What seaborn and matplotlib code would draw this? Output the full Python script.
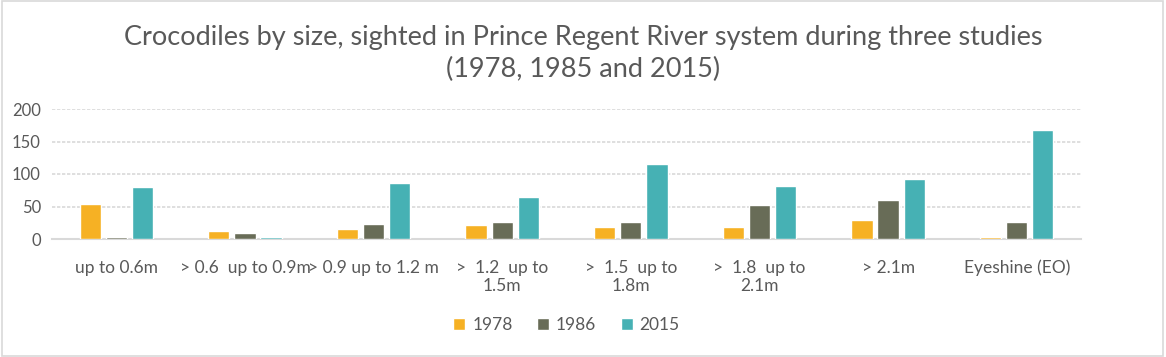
import numpy as np
import pandas as pd
import seaborn as sns
import matplotlib.pyplot as plt
from matplotlib.patches import Rectangle

# values
CATEGORIES = ['up to 0.6m', '> 0.6  up to 0.9m', '> 0.9 up to 1.2 m', '>  1.2  up to\n1.5m',
              '>  1.5  up to\n1.8m', '>  1.8  up to\n2.1m', '> 2.1m', 'Eyeshine (EO)']
YEARS = ['1978', '1986', '2015']
COUNTS_1978 = [54, 12, 15, 22, 18, 18, 29, 3]
COUNTS_1986 = [3, 9, 23, 26, 26, 52, 60, 26]
COUNTS_2015 = [80, 3, 86, 65, 116, 82, 93, 168]
COLORS = ['#F6B124', '#686C57', '#46B1B4']

TEXT = '#595959'

sns.set_theme(style='white')
plt.rcParams['font.family'] = ['Lato', 'DejaVu Sans']

rows = []
for year, vals in zip(YEARS, [COUNTS_1978, COUNTS_1986, COUNTS_2015]):
    for cat, v in zip(CATEGORIES, vals):
        rows.append({'size': cat, 'year': year, 'count': v})
df = pd.DataFrame(rows)

fig = plt.figure(figsize=(11.66, 3.57), dpi=100)
ax = fig.add_axes([52 / 1166, 1 - 239 / 357, (1081 - 52) / 1166, (239 - 109) / 357])

sns.barplot(data=df, x='size', y='count', hue='year', palette=COLORS,
            width=0.61, gap=0.19, order=CATEGORIES, hue_order=YEARS, ax=ax,
            saturation=1, legend=True)
for p in ax.patches:
    p.set_zorder(3)

ax.set_ylim(0, 200)
ax.set_yticks([0, 50, 100, 150, 200])
ax.yaxis.grid(True, color='#D9D9D9', linewidth=1.2, linestyle=(0, (2, 1)))
ax.set_axisbelow(True)
for s in ['top', 'left', 'right']:
    ax.spines[s].set_visible(False)
ax.spines['bottom'].set_color('#D9D9D9')
ax.spines['bottom'].set_linewidth(1.5)
ax.spines['bottom'].set_zorder(1)
ax.set_xlabel('')
ax.set_ylabel('')
ax.tick_params(axis='y', length=0, pad=8, labelsize=12, labelcolor=TEXT)
ax.tick_params(axis='x', length=0, pad=15, labelsize=12.5, labelcolor=TEXT)

ax.legend(loc='center', bbox_to_anchor=(0.5, -0.66), ncol=3, frameon=False,
          fontsize=12.5, handlelength=0.7, handleheight=0.7, handletextpad=0.4,
          columnspacing=1.4, labelcolor=TEXT)

fig.suptitle('Crocodiles by size, sighted in Prince Regent River system during three studies\n(1978, 1985 and 2015)',
             y=0.93, fontsize=19.5, color=TEXT, linespacing=1.35)

fig.patches.append(Rectangle((0.002, 0.004), 0.995, 0.992, transform=fig.transFigure,
                             fill=False, edgecolor='#D9D9D9', linewidth=1.2))

fig.savefig('out.png', dpi=100)
